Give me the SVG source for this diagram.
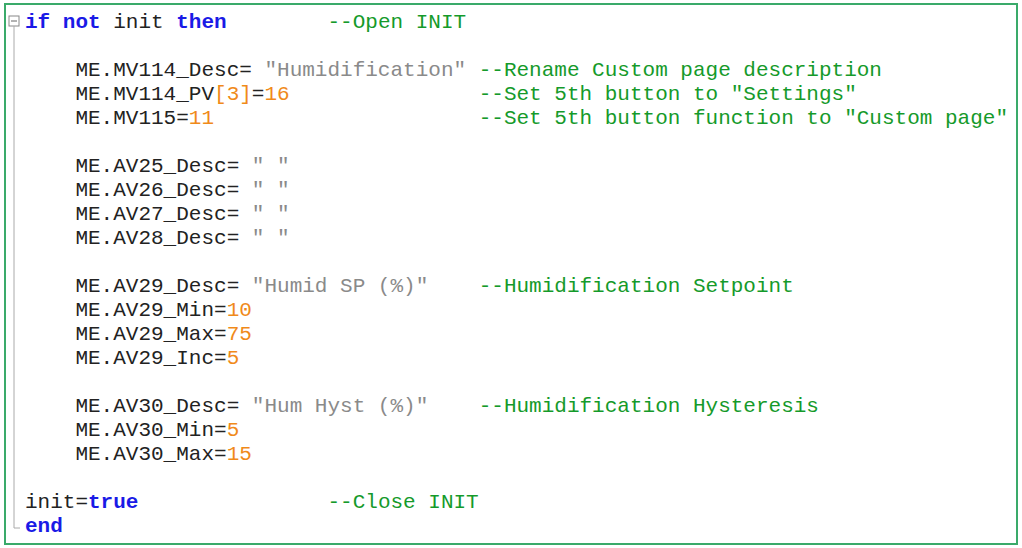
<svg xmlns="http://www.w3.org/2000/svg" width="1022" height="548" viewBox="0 0 1022 548">
<style>
text{font-family:"Liberation Mono","Courier New",monospace;font-size:21px;fill:#222;white-space:pre}
.k{fill:#1a1ae6;font-weight:bold}.c{fill:#159a2a}.s{fill:#8a8a8a}.n{fill:#f08a1a}
</style>
<rect x="0" y="0" width="1022" height="548" fill="#fff"/>
<rect x="5" y="4" width="1012" height="540" fill="#fff" stroke="#3aaa6a" stroke-width="2"/>
<g id="fold">
<rect x="9" y="16" width="10" height="10" fill="#fff" stroke="#888"/>
<line x1="11" y1="21" x2="17" y2="21" stroke="#666"/>
<line x1="14" y1="26" x2="14" y2="528" stroke="#aaa"/>
<line x1="14" y1="528" x2="20" y2="528" stroke="#aaa"/>
</g>
<g id="code" xml:space="preserve">
<text x="25" y="28"><tspan class="k">if not</tspan> init <tspan class="k">then</tspan>        <tspan class="c">--Open INIT</tspan></text>
<text x="25" y="76">    ME.MV114_Desc= <tspan class="s">"Humidification"</tspan> <tspan class="c">--Rename Custom page description</tspan></text>
<text x="25" y="100">    ME.MV114_PV<tspan class="n">[3]</tspan>=<tspan class="n">16</tspan>               <tspan class="c">--Set 5th button to "Settings"</tspan></text>
<text x="25" y="124">    ME.MV115=<tspan class="n">11</tspan>                     <tspan class="c">--Set 5th button function to "Custom page"</tspan></text>
<text x="25" y="172">    ME.AV25_Desc= <tspan class="s">" "</tspan></text>
<text x="25" y="196">    ME.AV26_Desc= <tspan class="s">" "</tspan></text>
<text x="25" y="220">    ME.AV27_Desc= <tspan class="s">" "</tspan></text>
<text x="25" y="244">    ME.AV28_Desc= <tspan class="s">" "</tspan></text>
<text x="25" y="292">    ME.AV29_Desc= <tspan class="s">"Humid SP (%)"</tspan>    <tspan class="c">--Humidification Setpoint</tspan></text>
<text x="25" y="316">    ME.AV29_Min=<tspan class="n">10</tspan></text>
<text x="25" y="340">    ME.AV29_Max=<tspan class="n">75</tspan></text>
<text x="25" y="364">    ME.AV29_Inc=<tspan class="n">5</tspan></text>
<text x="25" y="412">    ME.AV30_Desc= <tspan class="s">"Hum Hyst (%)"</tspan>    <tspan class="c">--Humidification Hysteresis</tspan></text>
<text x="25" y="436">    ME.AV30_Min=<tspan class="n">5</tspan></text>
<text x="25" y="460">    ME.AV30_Max=<tspan class="n">15</tspan></text>
<text x="25" y="508">init=<tspan class="k">true</tspan>               <tspan class="c">--Close INIT</tspan></text>
<text x="25" y="532"><tspan class="k">end</tspan></text>
</g>
</svg>
